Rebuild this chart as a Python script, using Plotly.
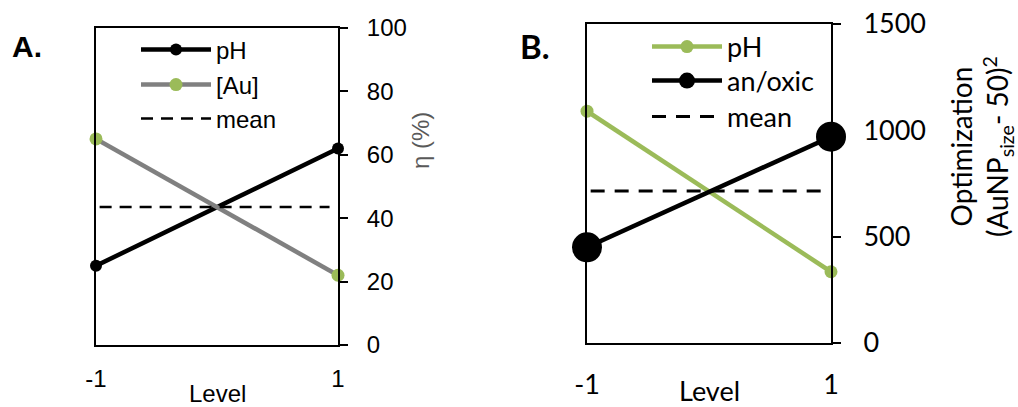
import plotly.graph_objects as go

# ---------------- data ----------------
levels = [-1, 1]
# Panel A  (eta %)
a_ph = [25, 62]
a_au = [65, 22]
a_mean = [43.5, 43.5]
# Panel B  (Optimization)
b_ph = [1090, 335]
b_anoxic = [450, 970]
b_mean = [715, 715]

A_ticks = [0, 20, 40, 60, 80, 100]
B_ticks = [0, 500, 1000, 1500]

GREEN = "#9BBB59"
GRAY = "#808080"
FA = "Liberation Sans, Arial, sans-serif"
FB = "Lato, Carlito, sans-serif"

W, H = 1018, 407
def px(x): return x / W
def py(y): return 1 - y / H

fig = go.Figure()

# Panel A
fig.add_trace(go.Scatter(x=levels, y=a_ph, name="pH", mode="lines+markers",
                         line=dict(color="black", width=4.5),
                         marker=dict(color="black", size=12),
                         xaxis="x", yaxis="y", legend="legend", cliponaxis=False))
fig.add_trace(go.Scatter(x=levels, y=a_au, name="[Au]", mode="lines+markers",
                         line=dict(color=GRAY, width=4.5),
                         marker=dict(color=GREEN, size=13),
                         xaxis="x", yaxis="y", legend="legend2", cliponaxis=False))
fig.add_trace(go.Scatter(x=[-0.97, 0.93], y=a_mean, name="mean", mode="lines",
                         line=dict(color="black", width=2.5, dash="12px,8px"),
                         xaxis="x", yaxis="y", legend="legend3"))

# Panel B
fig.add_trace(go.Scatter(x=levels, y=b_ph, name="pH", mode="lines+markers",
                         line=dict(color=GREEN, width=4.5),
                         marker=dict(color=GREEN, size=13),
                         xaxis="x2", yaxis="y2", legend="legend4", cliponaxis=False))
fig.add_trace(go.Scatter(x=levels, y=b_anoxic, name="an/oxic", mode="lines+markers",
                         line=dict(color="black", width=4.5),
                         marker=dict(color="black", size=30),
                         xaxis="x2", yaxis="y2", legend="legend5", cliponaxis=False))
fig.add_trace(go.Scatter(x=[-0.97, 0.93], y=b_mean, name="mean", mode="lines",
                         line=dict(color="black", width=3, dash="14px,10px"),
                         xaxis="x2", yaxis="y2", legend="legend6"))

xa_common = dict(range=[-1, 1], tickvals=levels, ticktext=["-1", "1"],
                 showline=True, linecolor="black", linewidth=2, mirror=True,
                 showgrid=False, zeroline=False, ticks="", fixedrange=True,
                 automargin=False)
ya_common = dict(side="right", showline=True, linecolor="black", linewidth=2,
                 mirror=True, showgrid=False, zeroline=False, ticks="outside",
                 ticklen=8, tickwidth=2, tickcolor="black", automargin=False)

def leg(x, y, fam, size):
    return dict(x=px(x), y=py(y), xanchor="left", yanchor="middle",
                bgcolor="rgba(0,0,0,0)", font=dict(family=fam, size=size, color="black"),
                itemwidth=70, tracegroupgap=0)

def ann(text, x, y, fam, size, color="black", angle=0):
    return dict(text=text, x=px(x), y=py(y), xref="paper", yref="paper",
                xanchor="center", yanchor="middle", showarrow=False, textangle=angle,
                font=dict(family=fam, size=size, color=color))

fig.update_layout(
    width=W, height=H, margin=dict(l=0, r=0, t=0, b=0, autoexpand=False),
    paper_bgcolor="white", plot_bgcolor="white",
    showlegend=True,
    xaxis=dict(domain=[px(96), px(338)], anchor="y",
               tickfont=dict(family=FA, size=24, color="black"),
               ticklabelstandoff=11, **xa_common),
    yaxis=dict(domain=[py(345), py(28)], anchor="x", range=[0, 100], tickvals=A_ticks,
               tickfont=dict(family=FA, size=24, color="black"),
               ticklabelstandoff=14, **ya_common),
    xaxis2=dict(domain=[px(587), px(831)], anchor="y2",
                tickfont=dict(family=FB, size=27, color="black"),
                ticklabelstandoff=17, **xa_common),
    yaxis2=dict(domain=[py(343), py(24)], anchor="x2", range=[0, 1500], tickvals=B_ticks,
                tickfont=dict(family=FB, size=27, color="black"),
                ticklabelstandoff=17, **ya_common),
    legend=leg(136, 50, FA, 24),
    legend2=leg(136, 85, FA, 24),
    legend3=leg(136, 119, FA, 24),
    legend4=leg(647, 47, FB, 27),
    legend5=leg(647, 81, FB, 27),
    legend6=leg(647, 117, FB, 27),
    annotations=[
        dict(text="<b>A.</b>", x=px(10), y=py(46), xref="paper", yref="paper",
             xanchor="left", yanchor="middle", showarrow=False,
             font=dict(family=FA, size=30, color="black")),
        dict(text="<b>B.</b>", x=px(518), y=py(46), xref="paper", yref="paper",
             xanchor="left", yanchor="middle", showarrow=False,
             font=dict(family=FB, size=33, color="black")),
        ann("Level", 217, 393, FA, 24),
        ann("Level", 709, 390, FB, 27),
        ann("η (%)", 420, 141, FA, 24, color="#595959", angle=-90),
        ann("Optimization<br>(AuNP<sub>size</sub>- 50)<sup>2</sup>", 981, 147, FB, 28, angle=-90),
    ],
)

fig.write_html("out.html")
